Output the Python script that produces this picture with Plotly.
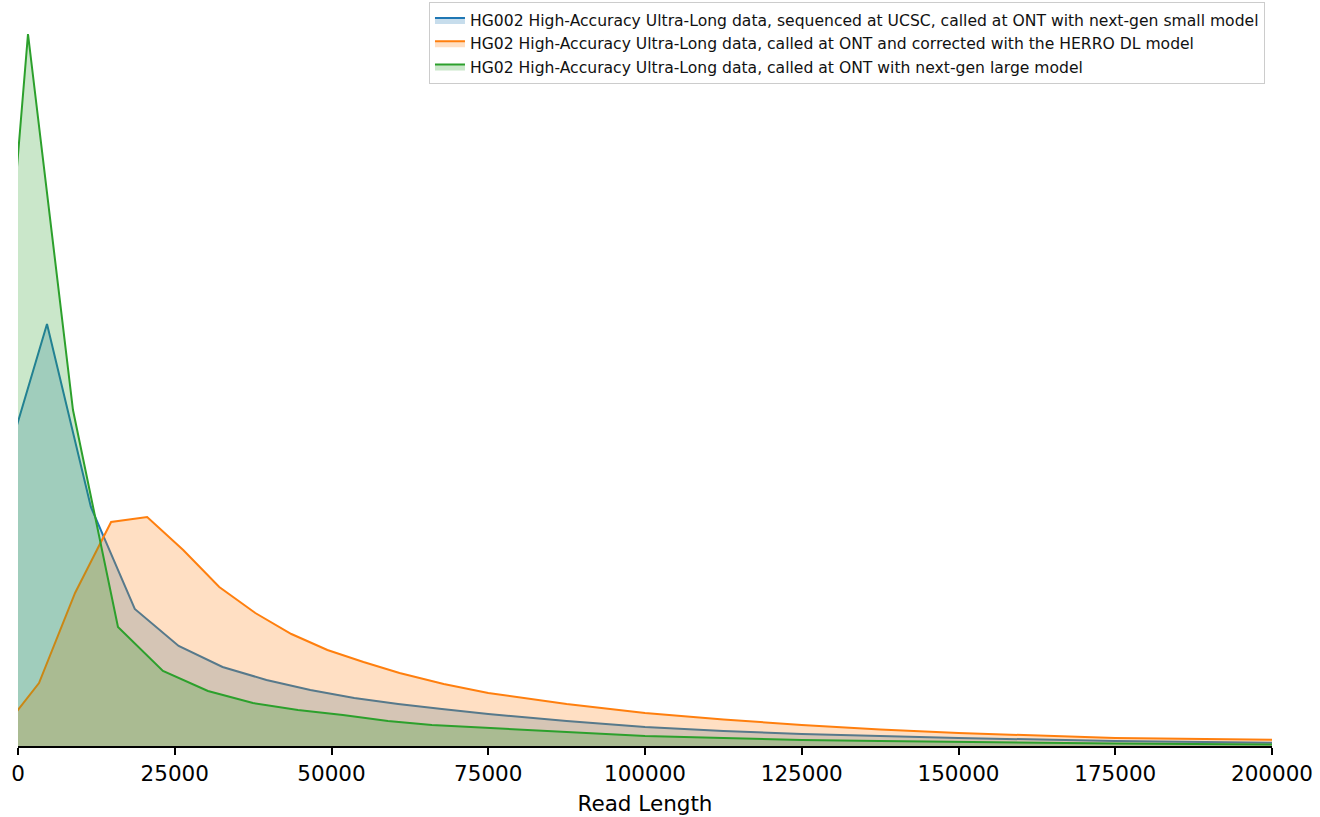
import plotly.graph_objects as go

# Read-length density curves (arbitrary density units)
blue_x = [-2375, 4625, 11625, 18625, 25625, 32625, 39625, 46625, 53625, 60625, 67600, 75000, 87500, 100000, 112500, 125000, 137500, 150000, 175000, 200000, 210000]
blue_y = [274, 422, 239, 137, 100, 79, 66, 56, 48, 42, 37, 32, 25, 19, 15, 12, 10, 8, 5, 3, 2.6]

orange_x = [-2400, 3350, 9100, 14850, 20600, 26350, 32100, 37850, 43600, 49350, 55100, 60850, 67900, 75000, 87500, 100000, 112500, 125000, 137500, 150000, 175000, 200000, 210000]
orange_y = [16.7, 63, 153, 224, 229, 196, 159, 133, 112, 96, 84, 73, 62, 53, 42, 33, 26.5, 21, 16.5, 13, 8, 6, 5.5]

green_x = [-5580, 1595, 8770, 15945, 23120, 30295, 37470, 44645, 51820, 59000, 66000, 75000, 87500, 100000, 112500, 125000, 137500, 150000, 175000, 200000, 210000]
green_y = [168, 712, 336, 119, 75, 55, 43, 36, 31, 25, 21, 18, 13.5, 10, 8, 6, 5, 4, 2.5, 1.5, 1.3]

names = [
    "HG002 High-Accuracy Ultra-Long data, sequenced at UCSC, called at ONT with next-gen small model",
    "HG02 High-Accuracy Ultra-Long data, called at ONT and corrected with the HERRO DL model",
    "HG02 High-Accuracy Ultra-Long data, called at ONT with next-gen large model",
]
tick_vals = [0, 25000, 50000, 75000, 100000, 125000, 150000, 175000, 200000]
tick_text = ["0", "25000", "50000", "75000", "100000", "125000", "150000", "175000", "200000"]

series = [
    (blue_x, blue_y, "#1f77b4", "rgba(31,119,180,0.25)"),
    (orange_x, orange_y, "#ff7f0e", "rgba(255,127,14,0.25)"),
    (green_x, green_y, "#2ca02c", "rgba(44,160,44,0.25)"),
]

fig = go.Figure()
for (xs, ys, lc, fc), nm in zip(series, names):
    fig.add_trace(go.Scatter(
        x=xs, y=ys, name=nm, mode="lines",
        line=dict(color=lc, width=2),
        fill="tozeroy", fillcolor=fc,
    ))

fig.update_layout(
    width=1320, height=817,
    margin=dict(l=18, r=48, t=0, b=71),
    paper_bgcolor="white", plot_bgcolor="white",
    font=dict(family="DejaVu Sans", color="black"),
    showlegend=True,
    legend=dict(
        x=0.9944, y=0.997, xanchor="right", yanchor="top",
        bgcolor="white", bordercolor="#cccccc", borderwidth=1,
        font=dict(size=15.6, family="DejaVu Sans", color="#111"),
        tracegroupgap=0, itemwidth=30,
    ),
    xaxis=dict(
        range=[0, 200000], tickvals=tick_vals, ticktext=tick_text,
        showgrid=False, zeroline=False, showline=True, linecolor="black", linewidth=1.5,
        ticks="outside", ticklen=7, tickwidth=1.5, tickcolor="black",
        tickfont=dict(size=21.5),
        title=dict(text="Read Length", font=dict(size=21.5), standoff=11),
    ),
    yaxis=dict(
        range=[0, 746], showgrid=False, zeroline=False, showline=False,
        showticklabels=False, ticks="",
    ),
)

fig.write_html("out.html")
